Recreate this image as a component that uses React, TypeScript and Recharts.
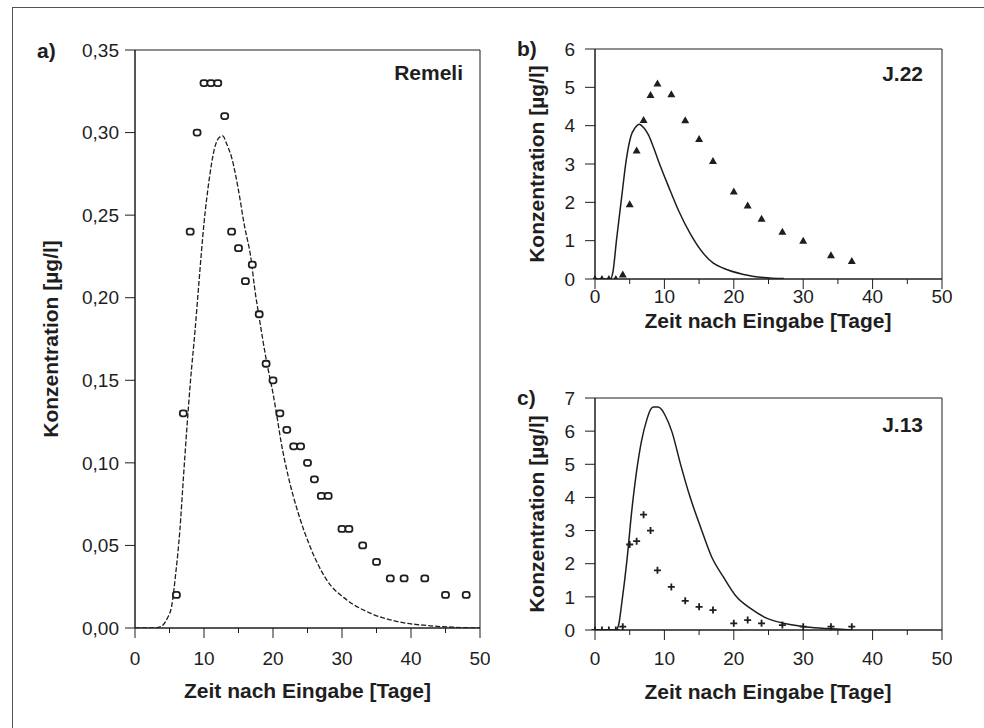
import React from "react";
import {
  ComposedChart,
  Line,
  Scatter,
  XAxis,
  YAxis,
  ReferenceArea,
} from "recharts";

// a) Remeli: measured values and model curve
const remeliDays = [6, 7, 8, 9, 10, 11, 12, 13, 14, 15, 16, 17, 18, 19, 20, 21, 22, 23, 24, 25, 26, 27, 28, 30, 31, 33, 35, 37, 39, 42, 45, 48];
const remeliConc = [0.02, 0.13, 0.24, 0.3, 0.33, 0.33, 0.33, 0.31, 0.24, 0.23, 0.21, 0.22, 0.19, 0.16, 0.15, 0.13, 0.12, 0.11, 0.11, 0.1, 0.09, 0.08, 0.08, 0.06, 0.06, 0.05, 0.04, 0.03, 0.03, 0.03, 0.02, 0.02];
const remeliCurveDays = [0, 3, 3.5, 4.1, 4.7, 5.3, 5.9, 6.5, 7, 7.5, 8.05, 8.7, 9.3, 10, 10.8, 11.5, 12.2, 12.7, 13.3, 14, 15, 15.8, 16.9, 17.3, 18, 19, 20, 20.5, 21.2, 22.2, 23.7, 25.4, 27.8, 30.7, 34.1, 37.9, 42.3, 46, 50];
const remeliCurveConc = [0, 0, 0.0005, 0.002, 0.006, 0.013, 0.033, 0.059, 0.09, 0.12, 0.15, 0.18, 0.211, 0.245, 0.273, 0.29, 0.297, 0.298, 0.293, 0.285, 0.265, 0.245, 0.221, 0.207, 0.188, 0.163, 0.142, 0.13, 0.112, 0.092, 0.069, 0.049, 0.029, 0.017, 0.009, 0.004, 0.0015, 0.0005, 0];

// b) J.22
const j22Days = [0, 1, 2, 3, 4, 5, 6, 7, 8, 9, 11, 13, 15, 17, 20, 22, 24, 27, 30, 34, 37];
const j22Conc = [0, 0, 0, 0, 0.12, 1.95, 3.35, 4.15, 4.8, 5.1, 4.82, 4.14, 3.65, 3.08, 2.28, 1.92, 1.57, 1.23, 1.0, 0.62, 0.47];
const j22CurveDays = [0, 2.2, 2.6, 3.1, 3.85, 4.5, 5.15, 5.8, 6.4, 7, 7.7, 8.4, 9.1, 10.6, 12, 13.7, 15.6, 17, 18.5, 21.4, 24.3, 27.2];
const j22CurveConc = [0, 0, 0.2, 1.02, 2.15, 3.1, 3.71, 3.95, 4.04, 3.95, 3.76, 3.45, 3.1, 2.41, 1.8, 1.19, 0.67, 0.42, 0.28, 0.12, 0.04, 0.01];

// c) J.13
const j13Days = [0, 1, 2, 3, 4, 5, 6, 7, 8, 9, 11, 13, 15, 17, 20, 22, 24, 27, 30, 34, 37];
const j13Conc = [0, 0, 0, 0, 0.1, 2.58, 2.68, 3.48, 3.0, 1.8, 1.3, 0.88, 0.7, 0.6, 0.2, 0.3, 0.2, 0.15, 0.1, 0.1, 0.1];
const j13CurveDays = [0, 3, 3.4, 3.85, 4.6, 5.3, 6, 6.7, 7.5, 8, 8.4, 9.1, 9.6, 10.1, 11.1, 12.3, 13.7, 15.2, 16.8, 18.5, 20.4, 22.4, 24.8, 27.7, 31, 35.4, 37];
const j13CurveConc = [0, 0, 0.15, 0.8, 2.1, 3.6, 4.8, 5.7, 6.37, 6.65, 6.73, 6.73, 6.65, 6.48, 5.97, 5.02, 4.01, 3.11, 2.21, 1.6, 1.0, 0.65, 0.35, 0.18, 0.08, 0.02, 0];

const xTicks = [0, 5, 10, 15, 20, 25, 30, 35, 40, 45, 50];
const remeliTicks = [0, 0.05, 0.1, 0.15, 0.2, 0.25, 0.3, 0.35];
const j22Ticks = [0, 1, 2, 3, 4, 5, 6];
const j13Ticks = [0, 1, 2, 3, 4, 5, 6, 7];

const INK = "#1e1e1e";
const FONT = "'Liberation Sans', Arial, sans-serif";
const TICK_SIZE = 10;
const TICK_MARGIN = 4;

const toPoints = (xs: number[], ys: number[]) => xs.map((x, i) => ({ x, y: ys[i] }));

function makeXTick(labelOffset: number) {
  return function XTick(props: any) {
    const { x, y, payload } = props;
    const axisY = y - TICK_SIZE - TICK_MARGIN;
    const major = payload.value % 10 === 0;
    return (
      <g>
        <line x1={x} x2={x} y1={axisY} y2={axisY + (major ? 10 : 5)} stroke={INK} />
        {major && (
          <text x={x} y={axisY + labelOffset} dy="0.36em" textAnchor="middle" fontSize={19} fill={INK} fontFamily={FONT}>
            {payload.value}
          </text>
        )}
      </g>
    );
  };
}

const OpenMarker = (p: any) => (
  <rect x={p.cx - 3.5} y={p.cy - 3} width={7} height={6} rx={2.5} fill="#fff" stroke={INK} strokeWidth={1.8} />
);
const TriangleMarker = (p: any) => (
  <polygon points={`${p.cx},${p.cy - 4} ${p.cx + 4},${p.cy + 3} ${p.cx - 4},${p.cy + 3}`} fill={INK} />
);
const CrossMarker = (p: any) => (
  <path d={`M${p.cx - 3.5},${p.cy}H${p.cx + 3.5}M${p.cx},${p.cy - 3.5}V${p.cy + 3.5}`} stroke={INK} strokeWidth={1.8} />
);

interface PanelProps {
  width: number;
  height: number;
  margin: { top: number; right: number; left: number; bottom: number };
  yWidth: number;
  xHeight: number;
  yMax: number;
  yTicks: number[];
  yFormat: (v: number) => string;
  yTickMargin: number;
  xLabelOffset: number;
  measured: { x: number; y: number }[];
  curve: { x: number; y: number }[];
  marker: (p: any) => React.ReactElement;
  dashed?: boolean;
}

function Panel(p: PanelProps) {
  const XTick = makeXTick(p.xLabelOffset);
  return (
    <ComposedChart width={p.width} height={p.height} margin={p.margin}>
      <XAxis
        type="number"
        dataKey="x"
        domain={[0, 50]}
        ticks={xTicks}
        interval={0}
        height={p.xHeight}
        tickSize={TICK_SIZE}
        tickMargin={TICK_MARGIN}
        tickLine={false}
        axisLine={{ stroke: INK }}
        tick={<XTick />}
      />
      <YAxis
        type="number"
        dataKey="y"
        domain={[0, p.yMax]}
        ticks={p.yTicks}
        interval={0}
        width={p.yWidth}
        tickSize={10}
        tickMargin={p.yTickMargin}
        tickLine={{ stroke: INK }}
        axisLine={{ stroke: INK }}
        tickFormatter={p.yFormat}
        tick={{ fontSize: 19, fill: INK, fontFamily: FONT }}
        allowDataOverflow
      />
      <ReferenceArea x1={0} x2={50} y1={0} y2={p.yMax} fill="none" stroke={INK} strokeWidth={1} />
      <Line
        data={p.curve}
        dataKey="y"
        type="monotone"
        stroke={INK}
        strokeWidth={p.dashed ? 1.3 : 1.5}
        strokeDasharray={p.dashed ? "5 2" : undefined}
        dot={false}
        activeDot={false}
        isAnimationActive={false}
      />
      <Scatter data={p.measured} dataKey="y" shape={p.marker} isAnimationActive={false} />
    </ComposedChart>
  );
}

const comma2 = (v: number) => v.toFixed(2).replace(".", ",");
const plain = (v: number) => String(v);

export default function App() {
  const title = { fontFamily: FONT, fontWeight: 700, fontSize: 21, fill: INK } as const;
  return (
    <div style={{ position: "absolute", left: 0, top: 0, width: 984, height: 728, background: "#fff", overflow: "hidden", fontFamily: FONT }}>
      <div style={{ position: "absolute", left: 0, top: 0 }}>
        <Panel
          width={490}
          height={700}
          margin={{ top: 50, right: 10, left: 0, bottom: 0 }}
          yWidth={135}
          xHeight={72}
          yMax={0.35}
          yTicks={remeliTicks}
          yFormat={comma2}
          yTickMargin={6}
          xLabelOffset={30}
          measured={toPoints(remeliDays, remeliConc)}
          curve={toPoints(remeliCurveDays, remeliCurveConc)}
          marker={OpenMarker}
          dashed
        />
      </div>
      <div style={{ position: "absolute", left: 480, top: 0 }}>
        <Panel
          width={472}
          height={320}
          margin={{ top: 49, right: 10, left: 0, bottom: 0 }}
          yWidth={115}
          xHeight={41}
          yMax={6}
          yTicks={j22Ticks}
          yFormat={plain}
          yTickMargin={10}
          xLabelOffset={17}
          measured={toPoints(j22Days, j22Conc)}
          curve={toPoints(j22CurveDays, j22CurveConc)}
          marker={TriangleMarker}
        />
      </div>
      <div style={{ position: "absolute", left: 480, top: 350 }}>
        <Panel
          width={472}
          height={330}
          margin={{ top: 48, right: 10, left: 0, bottom: 0 }}
          yWidth={115}
          xHeight={50}
          yMax={7}
          yTicks={j13Ticks}
          yFormat={plain}
          yTickMargin={10}
          xLabelOffset={28}
          measured={toPoints(j13Days, j13Conc)}
          curve={toPoints(j13CurveDays, j13CurveConc)}
          marker={CrossMarker}
        />
      </div>
      <svg width={984} height={728} style={{ position: "absolute", left: 0, top: 0, pointerEvents: "none" }}>
        <rect x={12.5} y={7.5} width={1000} height={800} fill="none" stroke="#555" strokeWidth={1} />
        <text x={37} y={57.5} {...title}>a)</text>
        <text x={517} y={56} {...title}>b)</text>
        <text x={517} y={405} {...title}>c)</text>
        <text x={463} y={79.5} textAnchor="end" {...title}>Remeli</text>
        <text x={923} y={80.5} textAnchor="end" {...title}>J.22</text>
        <text x={923} y={431.5} textAnchor="end" {...title}>J.13</text>
        <text x={307.5} y={697.5} textAnchor="middle" {...title}>Zeit nach Eingabe [Tage]</text>
        <text x={768} y={328} textAnchor="middle" {...title}>Zeit nach Eingabe [Tage]</text>
        <text x={768} y={699} textAnchor="middle" {...title}>Zeit nach Eingabe [Tage]</text>
        <text x={57.5} y={339} textAnchor="middle" transform="rotate(-90 57.5 339)" {...title}>Konzentration [µg/l]</text>
        <text x={543.5} y={164} textAnchor="middle" transform="rotate(-90 543.5 164)" {...title}>Konzentration [µg/l]</text>
        <text x={543.5} y={514} textAnchor="middle" transform="rotate(-90 543.5 514)" {...title}>Konzentration [µg/l]</text>
      </svg>
    </div>
  );
}
